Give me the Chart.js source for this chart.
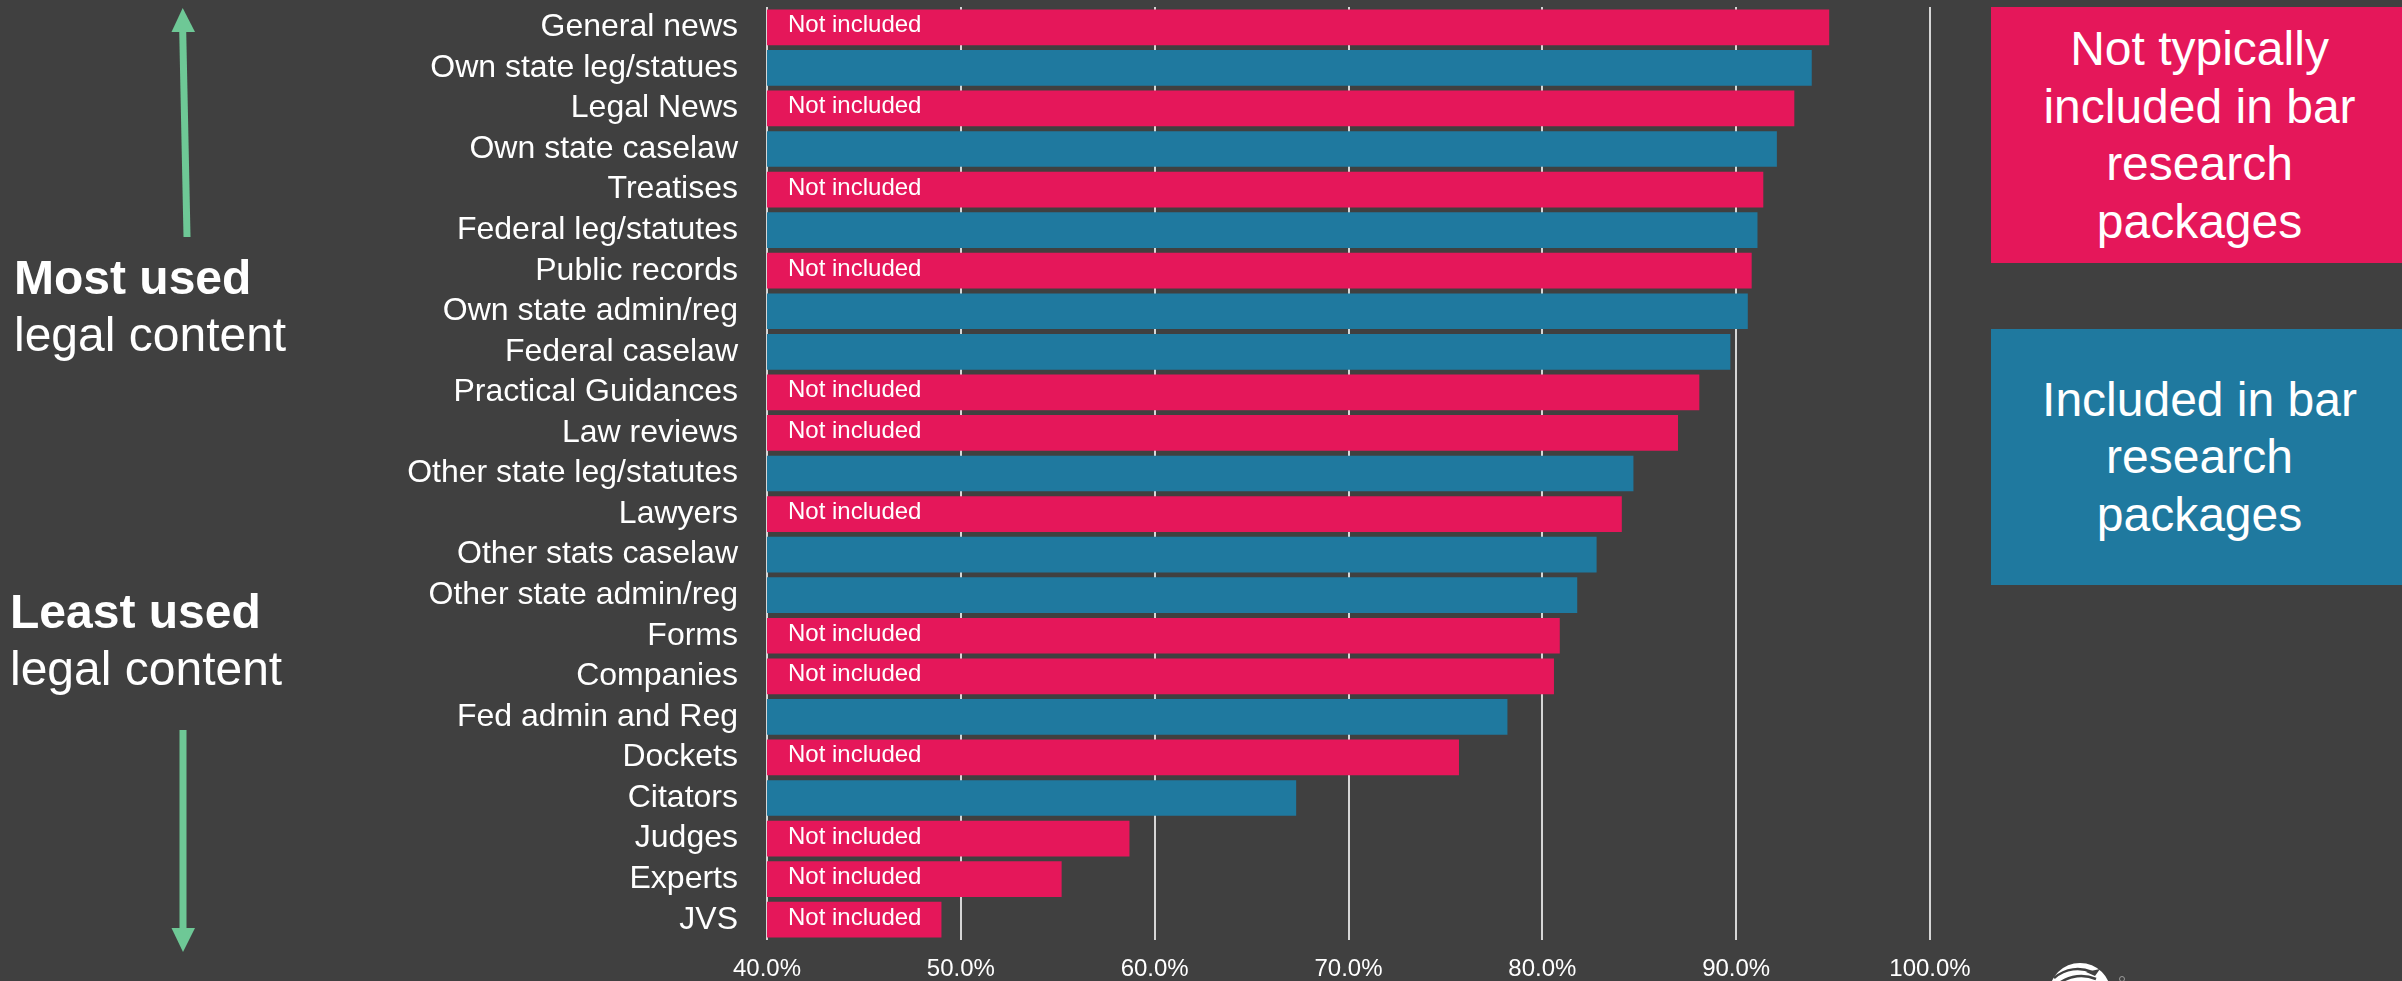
<!DOCTYPE html>
<html>
<head>
<meta charset="utf-8">
<title>Legal content usage</title>
<script src="https://cdn.jsdelivr.net/npm/chart.js@4.4.1/dist/chart.umd.min.js"></script>
<style>
  html, body { margin: 0; padding: 0; background: #404040; }
  body { width: 2402px; height: 981px; position: relative; overflow: hidden;
         font-family: "Liberation Sans", Arial, sans-serif; color: #fff; }
  #chart { position: absolute; left: 0; top: 0; }
  .note { position: absolute; font-size: 48px; line-height: 56.5px; white-space: nowrap; }
  .note b { font-weight: bold; }
  .key { position: absolute; left: 1991px; width: 411px; height: 256px; box-sizing: border-box;
         padding-left: 6px; display: flex; align-items: center; justify-content: center;
         text-align: center; font-size: 48px; line-height: 57.5px; }
  #arrows { position: absolute; left: 0; top: 0; pointer-events: none; }
</style>
</head>
<body>
<canvas id="chart" width="2402" height="981"></canvas>

<div class="note" style="left:14px; top:250px;"><b>Most used</b><br>legal content</div>
<div class="note" style="left:10px; top:584px;"><b>Least used</b><br>legal content</div>

<div class="key" style="top:7px; background:#e5175a;">Not typically<br>included in bar<br>research<br>packages</div>
<div class="key" style="top:329px; background:#1f799f;">Included in bar<br>research<br>packages</div>

<svg id="arrows" width="2402" height="981">
  <g fill="#6ec896" stroke="none">
    <polygon points="183.5,237 190.5,237 186.2,31 179.2,31"/>
    <polygon points="171.5,32 195,32 182.7,8"/>
    <rect x="179.5" y="730" width="7" height="200"/>
    <polygon points="171.5,928 195,928 183,952"/>
  </g>
  <!-- logo peeking in at the bottom edge -->
  <circle cx="2080" cy="994" r="31" fill="#ffffff"/>
  <path d="M2054,978 C2066,968 2080,967 2092,972" stroke="#404040" stroke-width="2.5" fill="none"/>
  <path d="M2058,984 C2070,975 2084,974 2096,979" stroke="#404040" stroke-width="2.5" fill="none"/>
  <path d="M2086,972 L2100,969 L2095,976 Z" fill="#404040"/>
  <circle cx="2122" cy="979" r="2.5" fill="none" stroke="#9a9a9a" stroke-width="1"/>
</svg>

<script>
// share of respondents using each kind of legal content
const categories = [
  "General news", "Own state leg/statues", "Legal News", "Own state caselaw",
  "Treatises", "Federal leg/statutes", "Public records", "Own state admin/reg",
  "Federal caselaw", "Practical Guidances", "Law reviews", "Other state leg/statutes",
  "Lawyers", "Other stats caselaw", "Other state admin/reg", "Forms",
  "Companies", "Fed admin and Reg", "Dockets", "Citators",
  "Judges", "Experts", "JVS"
];
const usage = [
  94.8, 93.9, 93.0, 92.1,
  91.4, 91.1, 90.8, 90.6,
  89.7, 88.1, 87.0, 84.7,
  84.1, 82.8, 81.8, 80.9,
  80.6, 78.2, 75.7, 67.3,
  58.7, 55.2, 49.0
];
// true = part of the bar research package
const included = [
  false, true, false, true,
  false, true, false, true,
  true, false, false, true,
  false, true, true, false,
  false, true, false, true,
  false, false, false
];
const xTicks = [40, 50, 60, 70, 80, 90, 100];

const PINK = "#e5175a";
const BLUE = "#1f799f";
const FONT = '"Liberation Sans", Arial, sans-serif';

// writes "Not included" inside the pink bars
const notIncludedLabels = {
  id: "notIncludedLabels",
  afterDatasetsDraw(chart) {
    const ctx = chart.ctx;
    const meta = chart.getDatasetMeta(0);
    const left = chart.scales.x.left;
    ctx.save();
    ctx.font = "24px " + FONT;
    ctx.fillStyle = "#ffffff";
    ctx.textAlign = "left";
    ctx.textBaseline = "alphabetic";
    meta.data.forEach((bar, i) => {
      if (included[i]) return;
      ctx.fillText("Not included", left + 21, bar.y + 5);
    });
    ctx.restore();
  }
};

const data = {
  labels: categories,
  datasets: [
    {
      data: usage,
      backgroundColor: included.map((inc) => (inc ? BLUE : PINK)),
      borderWidth: 0,
      barPercentage: 0.88,
      categoryPercentage: 1.0,
    },
  ],
};

const config = {
  type: "bar",
  data: data,
  options: {
    indexAxis: "y",
    responsive: false,
    animation: false,
    events: [],
    layout: { padding: { top: 7, right: 472, bottom: 0, left: 0 } },
    plugins: {
      legend: { display: false },
      tooltip: { enabled: false },
    },
    scales: {
      x: {
        min: 40,
        max: 100,
        afterBuildTicks: (scale) => {
          scale.ticks = xTicks.map((v) => ({ value: v }));
        },
        afterFit: (scale) => {
          scale.height = 41;
        },
        ticks: {
          color: "#ffffff",
          font: { family: FONT, size: 24 },
          padding: 15,
          maxRotation: 0,
          callback: (value) => value.toFixed(1) + "%",
        },
        grid: { color: "#d6d6d6", lineWidth: 2, drawTicks: false },
        border: { display: false },
      },
      y: {
        afterFit: (scale) => {
          scale.width = 767;
          scale.paddingTop = 0;
          scale.paddingBottom = 0;
        },
        ticks: {
          color: "#ffffff",
          font: { family: FONT, size: 32 },
          padding: 29,
          autoSkip: false,
        },
        grid: { display: false, drawTicks: false },
        border: { display: false },
      },
    },
  },
  plugins: [notIncludedLabels],
};

const myChart = new Chart(document.getElementById("chart"), config);
</script>
</body>
</html>
